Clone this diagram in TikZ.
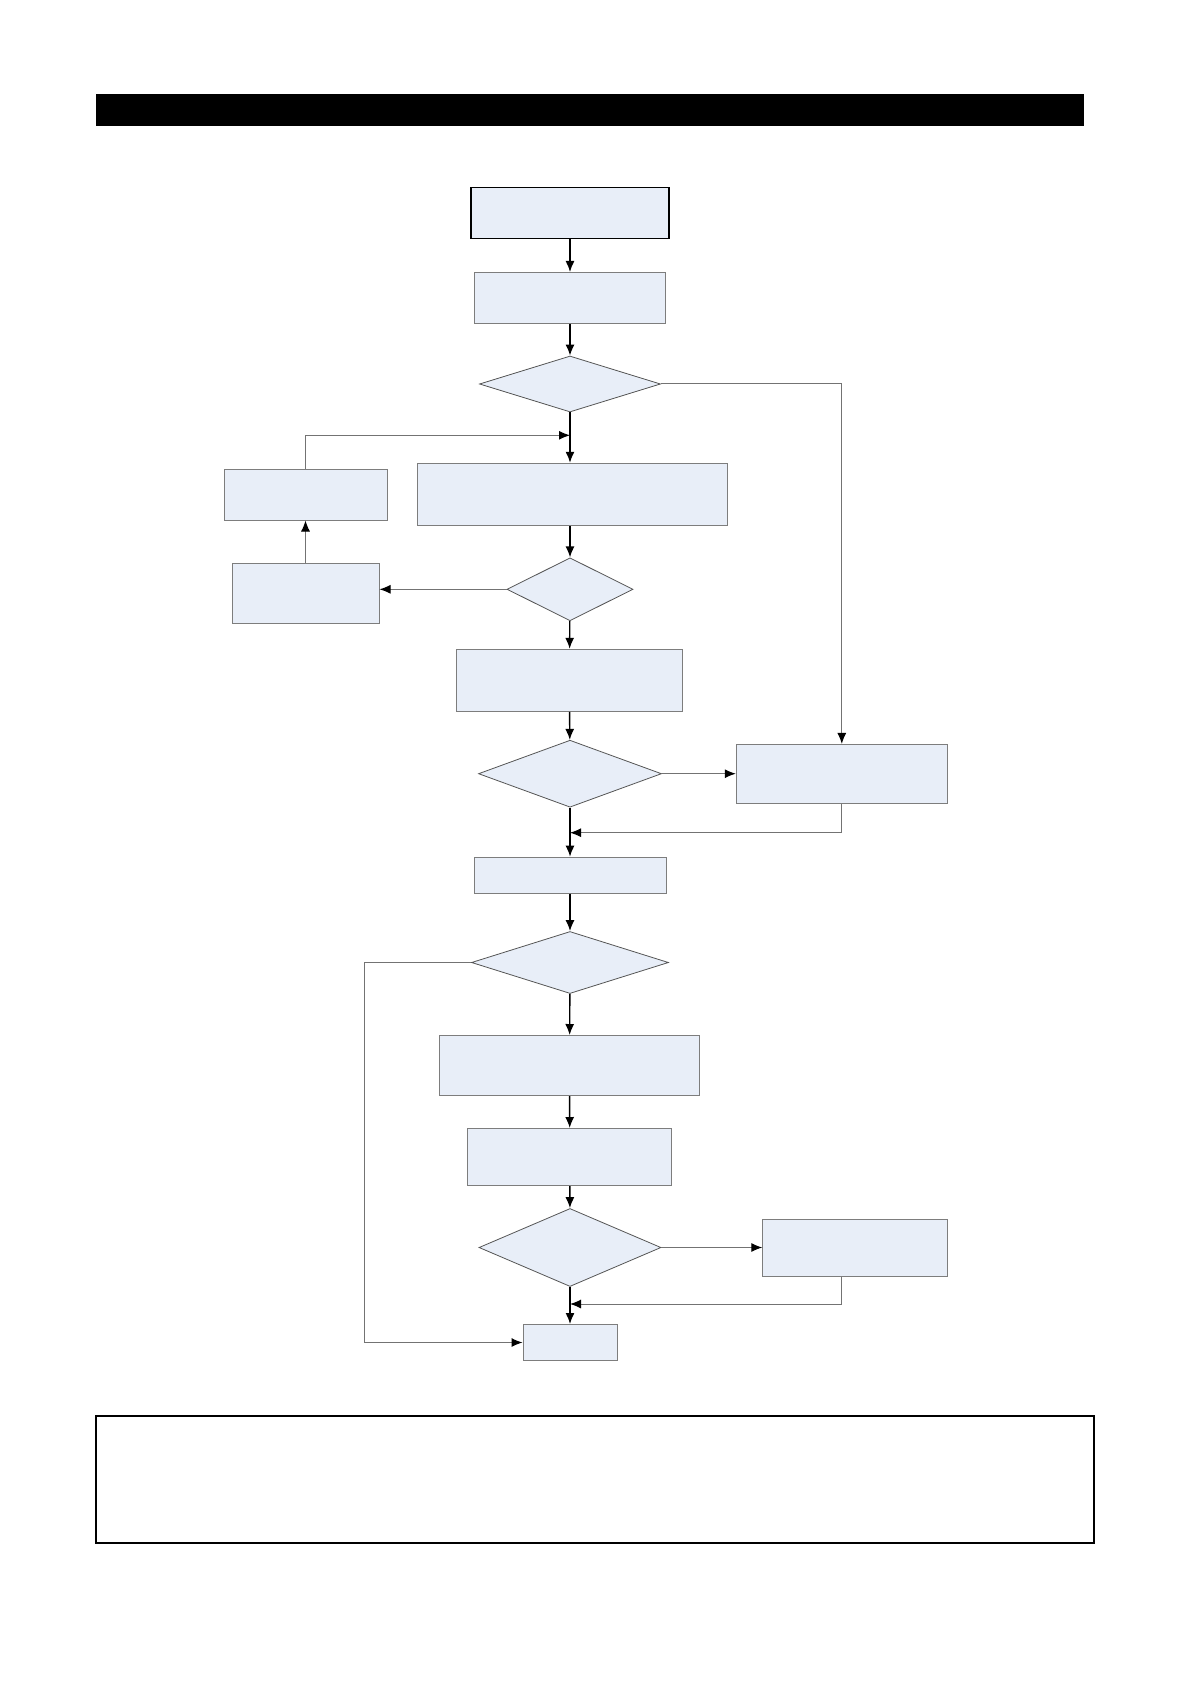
\documentclass[tikz,border=0pt]{standalone}
\usetikzlibrary{shapes.geometric,arrows.meta}
\definecolor{boxfill}{RGB}{232,238,248}
\definecolor{boxline}{RGB}{125,125,125}
\definecolor{diamline}{RGB}{85,85,85}
\definecolor{sideline}{RGB}{115,115,115}
\tikzset{
  box/.style={rectangle,draw=boxline,fill=boxfill,line width=0.5pt,inner sep=0pt},
  ask/.style={diamond,draw=diamline,fill=boxfill,line width=0.4pt,inner sep=0pt},
  flow/.style={-{Latex[length=5.5pt,width=4.5pt]},line width=0.7pt,black},
  back/.style={-{Latex[length=5.5pt,width=4.5pt,color=black]},line width=0.5pt,draw=sideline},
}
\begin{document}
\begin{tikzpicture}[x=0.5pt,y=-0.5pt]
  \useasboundingbox (0,0) rectangle (1190,1684);
  % header bar and note frame
  \fill[black] (96,94) rectangle (1084,126);
  \draw[line width=0.8pt] (96,1416) rectangle (1094,1543);
  % flow nodes
  \draw
    (570,213) node[box,draw=black,line width=0.6pt,minimum width=99pt,minimum height=25.5pt] (0){}
    (570,298) node[box,minimum width=95.5pt,minimum height=25.5pt] (1){}
    (570,384) node[ask,minimum width=90.5pt,minimum height=28pt] (2){}
    (572.4,494.3) node[box,minimum width=155pt,minimum height=31pt] (3){}
    (305.5,494.5) node[box,minimum width=81.5pt,minimum height=25.5pt] (4){}
    (305.5,593.3) node[box,minimum width=73.5pt,minimum height=30pt] (5){}
    (570,589.3) node[ask,minimum width=63pt,minimum height=31.5pt] (6){}
    (569.4,680.3) node[box,minimum width=113pt,minimum height=31pt] (7){}
    (570,773.7) node[ask,minimum width=91.5pt,minimum height=33.5pt] (8){}
    (841.8,773.9) node[box,minimum width=105.5pt,minimum height=29.5pt] (9){}
    (570,875.2) node[box,minimum width=96pt,minimum height=18pt] (10){}
    (570,962.5) node[ask,minimum width=98.5pt,minimum height=31pt] (11){}
    (569.5,1065.5) node[box,minimum width=130pt,minimum height=30pt] (12){}
    (569.8,1157) node[box,minimum width=102pt,minimum height=28.5pt] (13){}
    (570,1247.5) node[ask,minimum width=91pt,minimum height=39pt] (14){}
    (855.3,1248.1) node[box,minimum width=92.5pt,minimum height=28.5pt] (15){}
    (570,1342.5) node[box,minimum width=47pt,minimum height=18pt] (16){};
  \coordinate (j1) at (570,435.3);
  \coordinate (j2) at (570,832.7);
  \coordinate (j3) at (570,1304);
  % connectors
  \begin{scope}[flow]
    \draw (0) to (1);
    \draw (1) to (2);
    \draw (2.south) to (2.south |- 3.north);
    \draw (3.south -| 2.south) to (6.north);
    \draw (6) to (7);
    \draw (7) to (8);
    \draw (8) to (10);
    \draw (10) to (11);
    \draw (11) to (12);
    \draw (12) to (13);
    \draw (13) to (14);
    \draw (14) to (16);
  \end{scope}
  \begin{scope}[back]
    \draw (2.east) -| (9.north);
    \draw (6.west) -- (6.west -| 5.east);
    \draw (5) -- (4);
    \draw (4.north) |- (j1);
    \draw (8.east) -- (8.east -| 9.west);
    \draw (9.south) |- (j2);
    \draw (11.west) -- +(-107,0) |- (16.west);
    \draw (14.east) -- (14.east -| 15.west);
    \draw (9.south |- 15.south) |- (j3);
  \end{scope}
\end{tikzpicture}
\end{document}
